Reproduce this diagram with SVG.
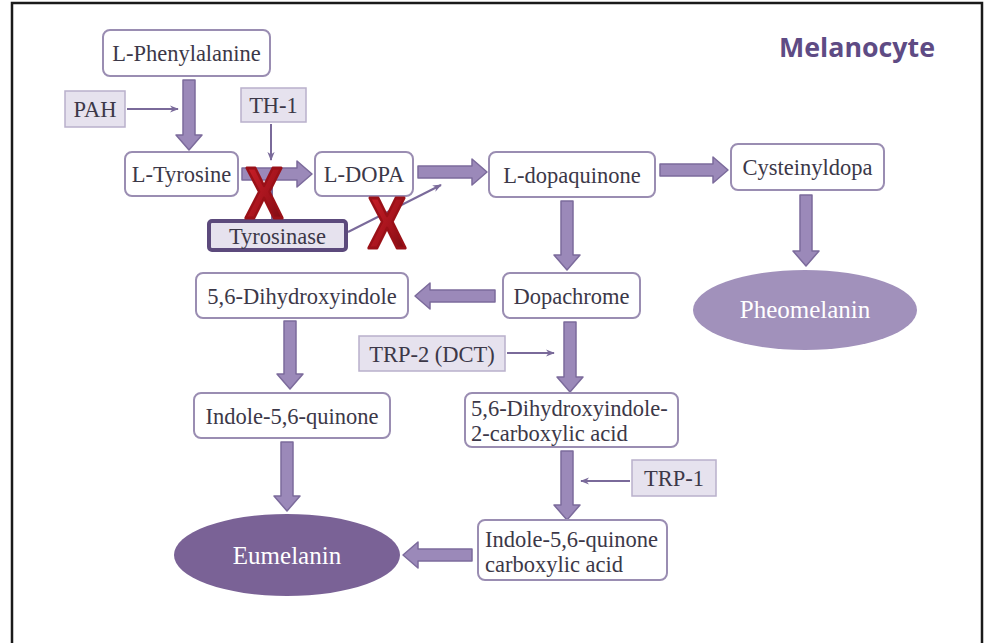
<svg xmlns="http://www.w3.org/2000/svg" width="986" height="643" viewBox="0 0 986 643">
<defs>
<marker id="ah" viewBox="0 0 10 10" refX="9" refY="5" markerWidth="9" markerHeight="9" markerUnits="userSpaceOnUse" orient="auto">
<path d="M0,1 L10,5 L0,9 L3,5 Z" fill="#7a6a9a"/>
</marker>
<linearGradient id="xg" x1="0" y1="0" x2="1" y2="1">
<stop offset="0" stop-color="#d0202a"/>
<stop offset="0.6" stop-color="#a3131c"/>
<stop offset="1" stop-color="#6e0a10"/>
</linearGradient>
</defs>
<style>
.box{fill:#ffffff;stroke:#9a8db2;stroke-width:2}
.enz{fill:#e6e2ee;stroke:#b9b0cb;stroke-width:1.5}
.t{font-family:"Liberation Serif","Times New Roman",serif;font-size:22.5px;fill:#3c3848}
.w{font-family:"Liberation Serif","Times New Roman",serif;font-size:25px;fill:#ffffff}
.big{fill:#9b89b9;stroke:#7c6b9c;stroke-width:1.5;stroke-linejoin:round}
.thin{stroke:#7a6a9a;stroke-width:2;fill:none}
.x{font-family:"Liberation Sans",Arial,sans-serif;font-weight:bold;font-size:72px;fill:url(#xg);stroke:#9a1017;stroke-width:3;stroke-linejoin:round}
</style>
<rect x="0" y="0" width="986" height="643" fill="#ffffff"/>
<path d="M12,643 L12,3 L982,3 L982,643" fill="none" stroke="#1a1a1a" stroke-width="2.5"/>
<text x="779" y="57" font-family="'Open Sans','Liberation Sans',Arial,sans-serif" font-weight="bold" font-size="27" fill="#5e4b84" textLength="156" lengthAdjust="spacingAndGlyphs">Melanocyte</text>

<g id="connectors">
<polygon class="big" points="183,80 195,80 195,135 202,135 189,150 176,135 183,135"/>
<polygon class="big" points="242,168 297,168 297,161 312,174 297,187 297,180 242,180"/>
<polygon class="big" points="418,166 472,166 472,159 487,172 472,185 472,178 418,178"/>
<polygon class="big" points="660,164 713,164 713,157 728,170 713,183 713,176 660,176"/>
<polygon class="big" points="800,195 812,195 812,251 819,251 806,266 793,251 800,251"/>
<polygon class="big" points="561,201 573,201 573,255 580,255 567,270 554,255 561,255"/>
<polygon class="big" points="495,290 430,290 430,283 415,296 430,309 430,302 495,302"/>
<polygon class="big" points="284,321 296,321 296,374 303,374 290,389 277,374 284,374"/>
<polygon class="big" points="281,442 293,442 293,496 300,496 287,511 274,496 281,496"/>
<polygon class="big" points="564,322 576,322 576,377 583,377 570,392 557,377 564,377"/>
<polygon class="big" points="561,451 573,451 573,505 580,505 567,520 554,505 561,505"/>
<polygon class="big" points="472,549 418,549 418,542 403,555 418,568 418,561 472,561"/>
<line class="thin" x1="127" y1="109" x2="178" y2="109" marker-end="url(#ah)"/>
<line class="thin" x1="271" y1="124" x2="271" y2="160" marker-end="url(#ah)"/>
<line class="thin" x1="507" y1="353" x2="554" y2="353" marker-end="url(#ah)"/>
<line class="thin" x1="630" y1="481" x2="581" y2="481" marker-end="url(#ah)"/>
<line class="thin" x1="272" y1="219" x2="272" y2="182"/>
<line class="thin" x1="348" y1="232" x2="441" y2="185" marker-end="url(#ah)"/>
</g>

<g id="n-phe"><rect class="box" x="103" y="30" width="167" height="46" rx="7"/><text class="t" x="186.5" y="61" text-anchor="middle">L-Phenylalanine</text></g>
<g id="n-pah"><rect class="enz" x="65" y="91" width="60" height="36"/><text class="t" x="95" y="117" text-anchor="middle">PAH</text></g>
<g id="n-th1"><rect class="enz" x="241" y="88" width="65" height="34"/><text class="t" x="273.5" y="113" text-anchor="middle">TH-1</text></g>
<g id="n-tyr"><rect class="box" x="125" y="152" width="113" height="44" rx="7"/><text class="t" x="181.5" y="182" text-anchor="middle">L-Tyrosine</text></g>
<g id="n-dopa"><rect class="box" x="315" y="152" width="98" height="44" rx="7"/><text class="t" x="364" y="182" text-anchor="middle">L-DOPA</text></g>
<g id="n-dq"><rect class="box" x="489" y="152" width="166" height="45" rx="7"/><text class="t" x="572" y="183" text-anchor="middle">L-dopaquinone</text></g>
<g id="n-cys"><rect class="box" x="731" y="144" width="153" height="46" rx="7"/><text class="t" x="807.5" y="175" text-anchor="middle">Cysteinyldopa</text></g>
<g id="n-tyrase"><rect x="209" y="221" width="137" height="29" rx="3" fill="#e6e2ee" stroke="#5c4a7c" stroke-width="4"/><text class="t" x="277.5" y="244" text-anchor="middle">Tyrosinase</text></g>
<g id="n-pheo"><ellipse cx="805" cy="310" rx="112" ry="40" fill="#a191bb"/><text class="w" x="805" y="318" text-anchor="middle">Pheomelanin</text></g>
<g id="n-dc"><rect class="box" x="503" y="273" width="137" height="45" rx="7"/><text class="t" x="571.5" y="304" text-anchor="middle">Dopachrome</text></g>
<g id="n-dhi"><rect class="box" x="196" y="273" width="212" height="45" rx="7"/><text class="t" x="302" y="304" text-anchor="middle">5,6-Dihydroxyindole</text></g>
<g id="n-trp2"><rect class="enz" x="359" y="336" width="146" height="35"/><text class="t" x="432" y="362" text-anchor="middle">TRP-2 (DCT)</text></g>
<g id="n-iq"><rect class="box" x="194" y="393" width="196" height="45" rx="7"/><text class="t" x="292" y="424" text-anchor="middle">Indole-5,6-quinone</text></g>
<g id="n-dhica"><rect class="box" x="465" y="393" width="213" height="54" rx="7"/><text class="t" x="471" y="416">5,6-Dihydroxyindole-</text><text class="t" x="471" y="441">2-carboxylic acid</text></g>
<g id="n-trp1"><rect class="enz" x="632" y="460" width="84" height="36"/><text class="t" x="674" y="486" text-anchor="middle">TRP-1</text></g>
<g id="n-iqca"><rect class="box" x="478" y="520" width="189" height="60" rx="7"/><text class="t" x="485" y="547">Indole-5,6-quinone</text><text class="t" x="485" y="572">carboxylic acid</text></g>
<g id="n-eu"><ellipse cx="287" cy="555" rx="113" ry="41" fill="#7a6296"/><text class="w" x="287" y="564" text-anchor="middle">Eumelanin</text></g>

<g id="marks">
<text class="x" x="245" y="218" textLength="38" lengthAdjust="spacingAndGlyphs">X</text>
<text class="x" x="368" y="248" textLength="38" lengthAdjust="spacingAndGlyphs">X</text>
</g>
</svg>
